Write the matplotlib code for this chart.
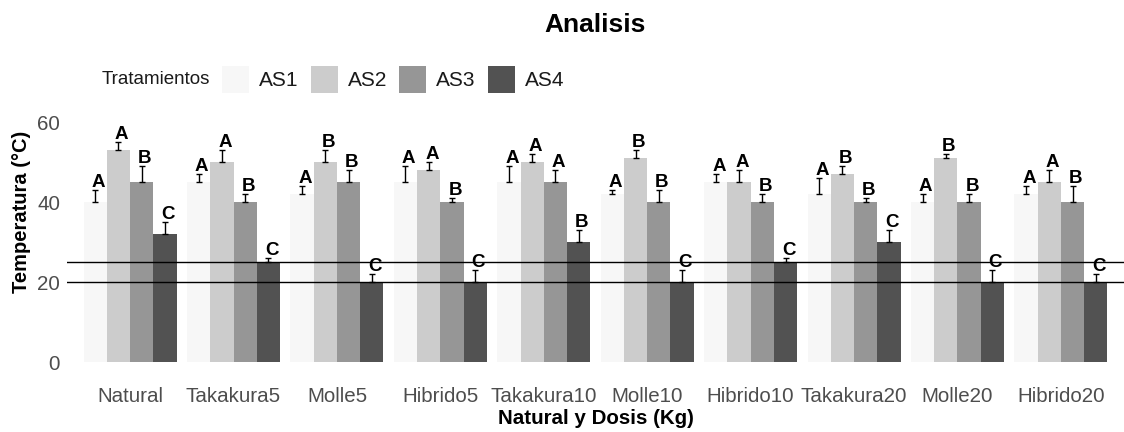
import numpy as np
import matplotlib
matplotlib.use("Agg")
import matplotlib.pyplot as plt
from matplotlib.patches import Rectangle

plt.rcParams['font.family'] = ['Liberation Sans', 'DejaVu Sans']

# data
categorias = ["Natural", "Takakura5", "Molle5", "Hibrido5", "Takakura10",
              "Molle10", "Hibrido10", "Takakura20", "Molle20", "Hibrido20"]
series = ["AS1", "AS2", "AS3", "AS4"]
colores = ["#F7F7F7", "#CCCCCC", "#969696", "#525252"]

as1 = [40, 45, 42, 45, 45, 42, 45, 42, 40, 42]
as2 = [53, 50, 50, 48, 50, 51, 45, 47, 51, 45]
as3 = [45, 40, 45, 40, 45, 40, 40, 40, 40, 40]
as4 = [32, 25, 20, 20, 30, 20, 25, 30, 20, 20]

err1 = [3, 2, 2, 4, 4, 1, 2, 4, 2, 2]
err2 = [2, 3, 3, 2, 2, 2, 3, 2, 1, 3]
err3 = [4, 2, 3, 1, 3, 3, 2, 1, 2, 4]
err4 = [3, 1, 2, 3, 3, 3, 1, 3, 3, 2]

let1 = ["A", "A", "A", "A", "A", "A", "A", "A", "A", "A"]
let2 = ["A", "A", "B", "A", "A", "B", "A", "B", "B", "A"]
let3 = ["B", "B", "B", "B", "A", "B", "B", "B", "B", "B"]
let4 = ["C", "C", "C", "C", "B", "C", "C", "C", "C", "C"]

lineas_ref = [20, 25]

valores = [as1, as2, as3, as4]
errores = [err1, err2, err3, err4]
letras = [let1, let2, let3, let4]

W, H = 1124, 432
fig = plt.figure(figsize=(W / 100, H / 100), dpi=100)
ax = fig.add_axes([67 / W, (H - 374) / H, 1057 / W, 260 / H])

x = np.arange(len(categorias))
ancho = 0.225

for j, nombre in enumerate(series):
    pos = x + (j - 1.5) * ancho
    v = np.array(valores[j])
    e = np.array(errores[j])
    ax.bar(pos, v, width=ancho, color=colores[j], edgecolor="none", zorder=1)
    ax.errorbar(pos, v, yerr=[np.zeros_like(e), e], fmt="none", ecolor="black",
                elinewidth=1, capsize=2.5, capthick=1, zorder=3)
    for p, val, er, t in zip(pos, v, e, letras[j]):
        ax.text(p + 0.03, val + er - 0.3, t, ha="center", va="bottom",
                fontsize=13.5, fontweight="bold", color="black", zorder=4)

for yl in lineas_ref:
    ax.axhline(yl, color="black", lw=1, zorder=2)

ax.set_xlim(-0.61, len(categorias) - 1 + 0.61)
ax.set_ylim(-3, 62)
ax.set_yticks([0, 20, 40, 60])
ax.set_xticks(x)
ax.set_xticklabels(categorias)
ax.tick_params(axis="both", length=0, labelsize=14.8, labelcolor="#4D4D4D")
ax.tick_params(axis="x", pad=9)
ax.tick_params(axis="y", pad=5, labelsize=14.8)
for s in ax.spines.values():
    s.set_visible(False)

# titles and axis labels
fig.text(595 / W, 1 - 25 / H, "Analisis", ha="center", va="center",
         fontsize=19, fontweight="bold")
fig.text(596 / W, 1 - 419 / H, "Natural y Dosis (Kg)", ha="center", va="center",
         fontsize=14.8, fontweight="bold")
fig.text(22 / W, 1 - 212 / H, "Temperatura (°C)", ha="center", va="center",
         rotation=90, fontsize=14.5, fontweight="bold")

# legend on top, laid out by hand like ggplot's horizontal legend
fig.text(102 / W, 1 - 80 / H, "Tratamientos", ha="left", va="center",
         fontsize=13.5, color="#1a1a1a")
for j, nombre in enumerate(series):
    x0 = 222 + j * 88.5
    fig.add_artist(Rectangle((x0 / W, 1 - 93 / H), 27 / W, 27 / H,
                             transform=fig.transFigure, facecolor=colores[j],
                             edgecolor="none"))
    fig.text((x0 + 37) / W, 1 - 80 / H, nombre, ha="left", va="center",
             fontsize=15, color="#1a1a1a")

fig.savefig("out.png", dpi=100)
